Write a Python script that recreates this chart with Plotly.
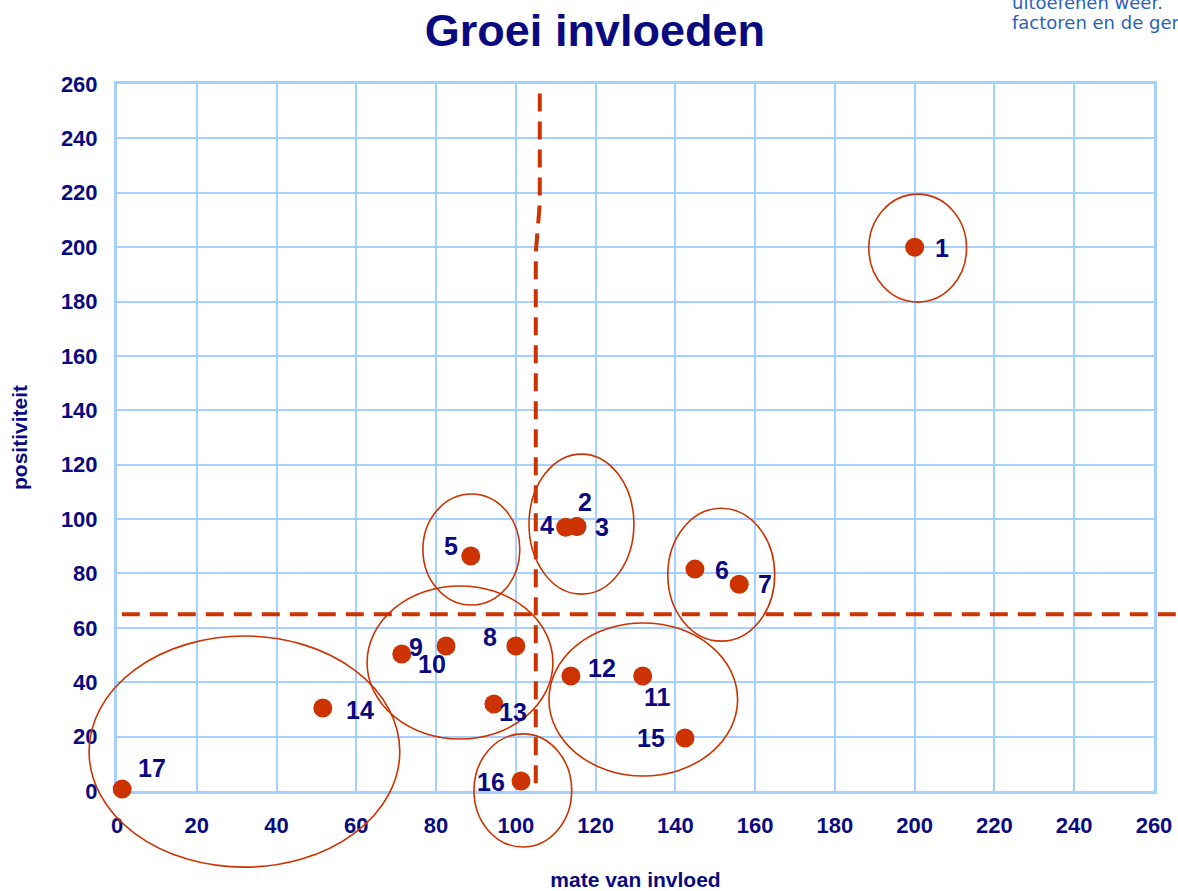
import plotly.graph_objects as go

# ---- data ----
labels = ["1", "2", "3", "4", "5", "6", "7", "8", "9", "10", "11", "12", "13", "14", "15", "16", "17"]
mate_van_invloed = [200, 115.3, 115.3, 112.5, 88.7, 144.9, 156, 100, 71.4, 82.5, 131.8, 113.8, 94.5, 51.6, 142.4, 101.3, 1.3]
positiviteit = [200, 97.3, 97.3, 97, 86.4, 81.6, 76, 53.3, 50.4, 53.3, 42.3, 42.3, 32, 30.5, 19.5, 3.7, 0.7]
# label offsets in pixels (style)
label_dx = [27, 8, 25, -19, -20, 27, 26, -26, 14, -14, 15, 31, 19, 37, -34, -30, 30]
label_dy = [1, -24, 1, -2, -10, 1, 0, -9, -7, 18, 21, -8, 8, 2, 0, 1, -21]

# group ellipses (x0, x1, y0, y1) in data units
ellipses = [
    (188.5, 213, 179.8, 219.5),
    (103.3, 129.6, 72.4, 123.9),
    (76.7, 101, 68.4, 109.2),
    (138.1, 164.9, 55.1, 104),
    (62.7, 109.3, 19.1, 75.4),
    (108.3, 155.6, 5.5, 61.8),
    (89.5, 114, -20.6, 21),
    (-7, 70.9, -28, 57),
]
h_threshold = 65
h_line_x = [1.2, 265.5]
v_line = [(106.0, 256.5), (106.0, 216), (105.0, 198), (105.0, 0)]

tick_vals = list(range(0, 261, 20))

XR = [0, 260]
YR = [0, 260]

def px(x):
    return (x - XR[0]) / (XR[1] - XR[0])

def py(y):
    return (y - YR[0]) / (YR[1] - YR[0])

NAVY = "#0a0a80"
RED = "#cc3300"
GRID = "#a6d0ff"
FONT = "Arial, Liberation Sans, sans-serif"

W, H = 1178, 891
ML, MR, MT, MB = 117, 24, 84, 100

fig = go.Figure()
fig.add_trace(go.Scatter(
    x=mate_van_invloed, y=positiviteit, mode="markers",
    marker=dict(size=19, color=RED, line=dict(width=0)),
    cliponaxis=False, hoverinfo="x+y", showlegend=False,
))

shapes = []
for (x0, x1, y0, y1) in ellipses:
    shapes.append(dict(type="circle", xref="paper", yref="paper",
                       x0=px(x0), x1=px(x1), y0=py(y0), y1=py(y1),
                       line=dict(color=RED, width=1.6), layer="above"))
shapes.append(dict(type="line", xref="paper", yref="paper",
                   x0=px(h_line_x[0]), x1=px(h_line_x[1]), y0=py(h_threshold), y1=py(h_threshold),
                   line=dict(color=RED, width=4, dash="18px,10px"), layer="above"))
path = "M " + " L ".join(f"{px(x):.5f},{py(y):.5f}" for x, y in v_line)
shapes.append(dict(type="path", xref="paper", yref="paper", path=path,
                   line=dict(color=RED, width=4, dash="18px,10px"), layer="above"))

annotations = []
for lab, x, y, dx, dy in zip(labels, mate_van_invloed, positiviteit, label_dx, label_dy):
    annotations.append(dict(x=x, y=y, xref="x", yref="y", text=lab, showarrow=True,
                            arrowcolor="rgba(0,0,0,0)", ax=dx, ay=dy,
                            font=dict(family=FONT, size=25, color=NAVY, weight="bold"),
                            xanchor="center", yanchor="middle"))

def pxl(xp):
    return (xp - ML) / (W - ML - MR)

def pyl(yp):
    return (H - MB - yp) / (H - MT - MB)

corner_text = ["uitoefenen weer.", "factoren en de gemeente"]
corner_y = [3, 22]
for t, yy in zip(corner_text, corner_y):
    annotations.append(dict(x=pxl(1010), y=pyl(yy), xref="paper", yref="paper", text=t,
                            showarrow=False, xanchor="left", yanchor="middle",
                            font=dict(family="DejaVu Sans, Verdana, sans-serif", size=18, color="#2a62b8")))

fig.update_layout(
    width=W, height=H,
    margin=dict(l=ML, r=MR, t=MT, b=MB, autoexpand=False),
    paper_bgcolor="white", plot_bgcolor="white",
    title=dict(text="Groei invloeden", x=0.505, xanchor="center", y=1 - 30 / H, yanchor="middle",
               font=dict(family=FONT, size=45, color=NAVY, weight="bold")),
    xaxis=dict(range=XR, tickvals=tick_vals, showgrid=True, gridcolor=GRID, gridwidth=2,
               showline=True, linecolor=GRID, linewidth=3, mirror=True, zeroline=False,
               ticks="", ticklabelstandoff=13, automargin=False, layer="below traces",
               tickfont=dict(family=FONT, size=22, color=NAVY, weight="bold"),
               title=dict(text="mate van invloed", standoff=49,
                          font=dict(family=FONT, size=21, color=NAVY, weight="bold"))),
    yaxis=dict(range=YR, tickvals=tick_vals, showgrid=True, gridcolor=GRID, gridwidth=2,
               showline=True, linecolor=GRID, linewidth=3, mirror=True, zeroline=False,
               ticks="", ticklabelstandoff=12, automargin=False, layer="below traces",
               tickfont=dict(family=FONT, size=22, color=NAVY, weight="bold"),
               title=dict(text="positiviteit", standoff=28,
                          font=dict(family=FONT, size=21, color=NAVY, weight="bold"))),
    shapes=shapes, annotations=annotations,
)
fig.write_html("out.html", config={"displayModeBar": False},
               post_script="document.body.style.margin='0';document.body.style.overflow='hidden';")
